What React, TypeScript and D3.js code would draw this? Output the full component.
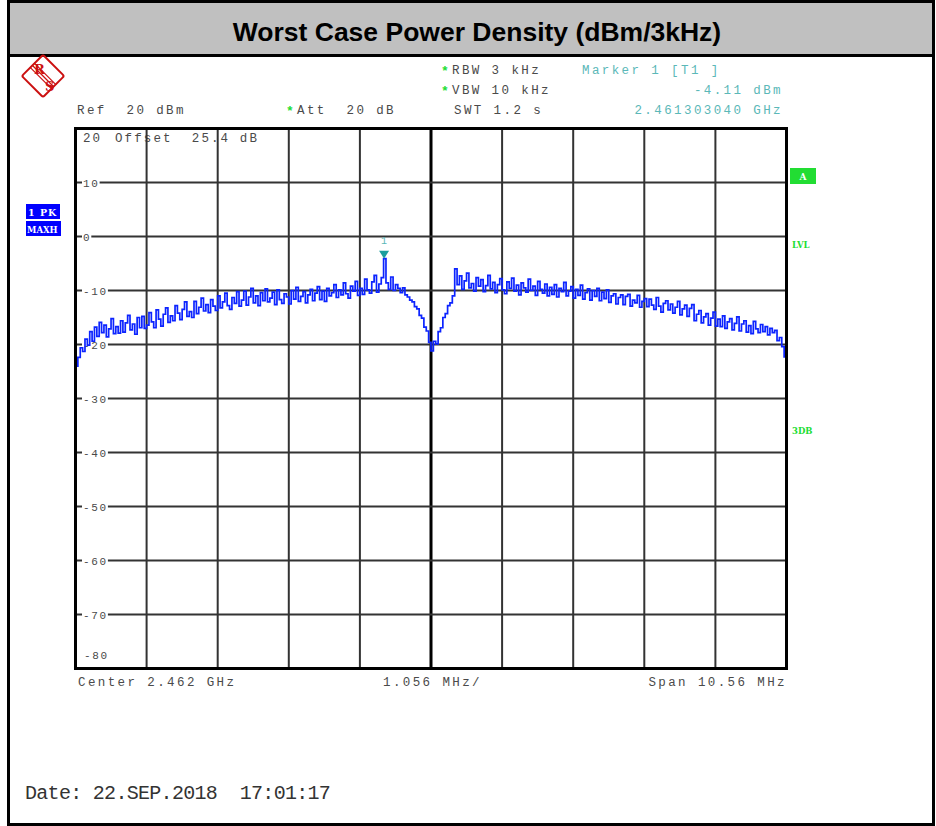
import React from "react";
import * as d3 from "d3";

// ---------------- DATA ----------------
const TITLE = "Worst Case Power Density (dBm/3kHz)";
const REF_DBM = 20;
const BOTTOM_DBM = -80;
const CENTER_GHZ = 2.462;
const SPAN_MHZ = 10.56;
const DIV_MHZ = 1.056;
const Y_GRID = [10, 0, -10, -20, -30, -40, -50, -60, -70];
const Y_LABELS = ["10", "0", "-10", "-20", "-30", "-40", "-50", "-60", "-70"];
const MARKER_GHZ = 2.46130304;
const MARKER_DBM = -4.11;

// Trace 1 (PK, MAXH) levels in dBm, 301 sweep points across the span
const TRACE_DBM = [
  -24.0, -22.4, -20.6, -21.3, -19.0, -20.1, -17.6, -19.4, -16.8, -18.5,
  -15.9, -17.8, -16.4, -18.6, -17.1, -15.2, -18.0, -16.7, -17.9, -15.6,
  -17.7, -16.0, -14.6, -17.3, -16.2, -18.1, -15.0, -16.9, -14.8, -17.0,
  -16.4, -14.1, -15.8, -16.9, -13.6, -15.3, -16.6, -14.4, -13.2, -15.9,
  -14.7, -15.6, -12.8, -14.2, -15.4, -13.5, -12.1, -14.8, -13.9, -15.0,
  -12.0, -14.3, -13.1, -11.4, -13.8, -12.6, -14.1, -11.7, -12.9, -13.7,
  -11.0, -13.2, -12.1, -10.5, -12.8, -13.5, -11.3, -12.4, -10.2, -12.9,
  -11.8, -10.1, -12.7, -11.2, -9.6, -12.3, -11.0, -12.8, -10.4, -11.9,
  -9.7, -12.1, -11.4, -10.3, -12.6, -9.9, -11.7, -12.4, -10.6, -11.2,
  -12.5, -10.0, -11.6, -9.4, -12.0, -11.1, -10.2, -12.3, -10.8, -9.8,
  -11.9, -10.5, -9.3, -11.7, -10.1, -12.0, -9.6, -11.0, -10.4, -8.9,
  -11.3, -9.9, -10.8, -8.6, -10.6, -11.4, -9.2, -10.1, -8.3, -10.9,
  -9.6, -10.7, -7.9, -9.9, -10.5, -8.4, -7.2, -10.3, -8.8, -7.6,
  -4.11,
  -8.6, -9.8, -7.5, -10.0, -8.9, -9.6, -10.4, -9.5, -10.8, -11.2,
  -11.8, -12.1, -13.0, -13.4, -14.6, -15.1, -16.8, -17.5, -19.6, -21.2,
  -19.4, -19.9, -17.6, -16.9, -15.0, -14.3, -12.8, -12.3, -11.0, -6.0,
  -8.9, -7.3, -9.8, -8.2, -6.8, -9.5, -8.7, -10.1, -7.6, -9.2,
  -8.0, -10.2, -9.1, -7.2, -9.7, -8.5, -10.4, -8.9, -7.8, -9.9,
  -10.6, -8.4, -9.6, -7.7, -10.1, -9.0, -10.8, -8.6, -9.5, -10.3,
  -7.9, -10.0, -9.2, -10.9, -8.3, -9.8, -10.5, -8.8, -11.0, -9.4,
  -10.7, -8.9, -11.2, -9.6, -10.2, -8.5, -11.0, -10.1, -9.3, -11.4,
  -9.8, -10.9, -9.0, -11.6, -10.4, -9.7, -11.8, -10.0, -11.1, -9.6,
  -11.9, -10.3, -11.5, -9.9, -12.2, -11.0, -10.6, -12.5, -11.3, -10.8,
  -12.6, -11.1, -10.7, -12.9, -11.8, -12.3, -10.9, -13.1, -12.0, -11.5,
  -13.0, -11.6, -12.7, -13.5, -11.3, -12.9, -14.0, -12.4, -11.9, -13.6,
  -12.5, -14.2, -13.1, -12.0, -14.5, -13.4, -12.7, -14.8, -13.3, -12.6,
  -15.6, -14.4, -13.7, -16.0, -14.9, -14.3, -16.4, -15.1, -14.0, -16.6,
  -15.3, -16.7, -14.7, -17.0, -15.8, -15.2, -17.3, -16.1, -14.9, -17.5,
  -16.2, -15.6, -17.7, -16.5, -18.0, -15.7, -17.1, -17.8, -16.3, -17.6,
  -16.7, -18.2, -17.0, -17.8, -17.4, -19.3, -18.7, -20.4, -22.3, -24.5,
];

// ---------------- LAYOUT ----------------
const W = 936;
const H = 826;
const PL = 75.5, PR = 786.5, PT = 128.5, PB = 668.5;

const MONO = "'Liberation Mono', 'DejaVu Sans Mono', monospace";
const SANS = "'Liberation Sans', Arial, sans-serif";
const SERIF = "'DejaVu Serif', 'Liberation Serif', serif";
const GRAY = "#4a4a4a";
const TEAL = "#5bb8b8";
const GREEN = "#22dd33";
const BLUE = "#0c24ff";
const PRE = { whiteSpace: "pre" } as any;

export default function App() {
  const x = d3.scaleLinear().domain([-SPAN_MHZ / 2, SPAN_MHZ / 2]).range([PL, PR]);
  const y = d3.scaleLinear().domain([BOTTOM_DBM, REF_DBM]).range([PB, PT]);
  const n = TRACE_DBM.length;
  const pts: [number, number][] = TRACE_DBM.map((v, i) => [
    -SPAN_MHZ / 2 + (i * SPAN_MHZ) / (n - 1),
    v,
  ]);
  const line = d3
    .line<[number, number]>()
    .x((d) => x(d[0]))
    .y((d) => y(d[1]))
    .curve(d3.curveStepAfter);

  const vLines = d3.range(1, 10).map((k) => -SPAN_MHZ / 2 + k * DIV_MHZ);

  const mx = x((MARKER_GHZ - CENTER_GHZ) * 1000);
  const my = y(MARKER_DBM);

  const hdr = { fontFamily: MONO, fontSize: 12.5, letterSpacing: 2.4, fill: GRAY, style: PRE, xmlSpace: "preserve" } as any;
  const hdrT = { ...hdr, fill: TEAL } as any;
  const yl = { fontFamily: MONO, fontSize: 11, letterSpacing: 1.6, fill: GRAY } as any;

  return (
    <svg
      width={W}
      height={H}
      style={{ position: "absolute", left: 0, top: 0, background: "#fff" }}
      xmlns="http://www.w3.org/2000/svg"
    >
      <rect x={0} y={0} width={W} height={H} fill="#fff" />
      {/* title band */}
      <rect x={9} y={2} width={923} height={53} fill="#c0c0c0" />
      <line x1={8} x2={934} y1={55.5} y2={55.5} stroke="#000" strokeWidth={3} />
      <text x={477} y={41} textAnchor="middle" fontFamily={SANS} fontWeight="bold" fontSize={26.5} fill="#000">
        {TITLE}
      </text>
      {/* outer frame */}
      <rect x={8.5} y={1.5} width={925} height={823} fill="none" stroke="#000" strokeWidth={3} />

      {/* R&S logo */}
      <g>
        <rect
          x={-15}
          y={-15}
          width={30}
          height={30}
          rx={2}
          fill="none"
          stroke="#cc1111"
          strokeWidth={2}
          transform="translate(43,76) rotate(45)"
        />
        {[-3, 0, 3].map((o) => (
          <line
            key={o}
            x1={32 + o * 0.707}
            y1={65 - o * 0.707}
            x2={54 + o * 0.707}
            y2={87 - o * 0.707}
            stroke="#cc1111"
            strokeWidth={1.2}
          />
        ))}
        <text x={34} y={74} fontFamily={SERIF} fontWeight="bold" fontSize={13} fill="#cc1111">R</text>
        <text x={45} y={91} fontFamily={SERIF} fontWeight="bold" fontSize={13} fill="#cc1111">S</text>
      </g>

      {/* header */}
      <text x={441} y={75} fontFamily={MONO} fontSize={13} fontWeight="bold" fill={GREEN}>*</text>
      <text x={452} y={74} {...hdr}>RBW 3 kHz</text>
      <text x={441} y={95} fontFamily={MONO} fontSize={13} fontWeight="bold" fill={GREEN}>*</text>
      <text x={452} y={94} {...hdr}>VBW 10 kHz</text>
      <text x={77} y={114} {...hdr}>Ref  20 dBm</text>
      <text x={286} y={115} fontFamily={MONO} fontSize={13} fontWeight="bold" fill={GREEN}>*</text>
      <text x={297} y={114} {...hdr}>Att  20 dB</text>
      <text x={454} y={114} {...hdr}>SWT 1.2 s</text>
      <text x={582} y={74} {...hdrT}>Marker 1 [T1 ]</text>
      <text x={783} y={94} textAnchor="end" {...hdrT}>{`${MARKER_DBM.toFixed(2)} dBm`}</text>
      <text x={783} y={114} textAnchor="end" {...hdrT}>{`${MARKER_GHZ.toFixed(9)} GHz`}</text>

      {/* side annotations */}
      <rect x={26} y={204} width={34} height={15} fill="#0000ff" />
      <text x={28} y={215.5} fontFamily={SERIF} fontWeight="bold" fontSize={9.5} fill="#fff" letterSpacing={1}>1 PK</text>
      <rect x={26} y={221} width={35} height={15} fill="#0000ff" />
      <text x={27} y={232.5} fontFamily={SERIF} fontWeight="bold" fontSize={8.5} fill="#fff">MAXH</text>
      <rect x={790} y={168} width={26} height={16} fill={GREEN} />
      <text x={803} y={180} textAnchor="middle" fontFamily={SERIF} fontWeight="bold" fontSize={9} fill="#fff">A</text>
      <text x={792} y={248} fontFamily={SERIF} fontWeight="bold" fontSize={8.5} fill={GREEN}>LVL</text>
      <text x={792} y={434} fontFamily={SERIF} fontWeight="bold" fontSize={8.5} fill={GREEN}>3DB</text>

      {/* top-left in-plot info (behind grid) */}
      <text x={83} y={142} {...yl} fontSize={12.5} letterSpacing={2.1}>20</text>
      <text x={115} y={142} {...hdr} letterSpacing={2.1}>Offset  25.4 dB</text>

      {/* grid */}
      {vLines.map((f, i) => (
        <line
          key={"v" + i}
          x1={x(f)}
          x2={x(f)}
          y1={PT}
          y2={PB}
          stroke={i === 4 ? "#000" : "#333"}
          strokeWidth={i === 4 ? 3 : 2}
        />
      ))}
      {Y_GRID.map((v) => (
        <line key={"h" + v} x1={PL} x2={PR} y1={y(v)} y2={y(v)} stroke="#333" strokeWidth={2} />
      ))}
      {Y_GRID.map((v, i) => {
        const w = Y_LABELS[i].length * 8.3 + 1;
        return (
          <g key={"l" + v}>
            <rect x={82} y={y(v) - 5} width={w} height={10} fill="#fff" />
            <text x={83} y={y(v) + 4} {...yl}>{Y_LABELS[i]}</text>
          </g>
        );
      })}
      <text x={84} y={659} {...yl}>-80</text>

      {/* trace */}
      <defs>
        <clipPath id="plotclip">
          <rect x={PL} y={PT} width={PR - PL} height={PB - PT} />
        </clipPath>
      </defs>
      <path d={line(pts) || ""} fill="none" stroke={BLUE} strokeWidth={1.7} clipPath="url(#plotclip)" />

      {/* marker */}
      <path d={`M${mx - 5},${my - 8} L${mx + 5},${my - 8} L${mx},${my} Z`} fill="#1a9e9e" />
      <text x={mx} y={my - 15} textAnchor="middle" fontFamily={MONO} fontSize={10} fill={TEAL}>1</text>

      {/* frame */}
      <rect x={PL} y={PT} width={PR - PL} height={PB - PT} fill="none" stroke="#000" strokeWidth={3} />

      {/* bottom labels */}
      <text x={78} y={686} {...hdr}>{`Center ${CENTER_GHZ.toFixed(3)} GHz`}</text>
      <text x={383} y={686} {...hdr}>{`${DIV_MHZ.toFixed(3)} MHz/`}</text>
      <text x={787} y={686} textAnchor="end" {...hdr}>{`Span ${SPAN_MHZ.toFixed(2)} MHz`}</text>

      {/* date */}
      <text x={25} y={799} fontFamily={MONO} fontSize={20} letterSpacing={-0.7} fill="#333" style={PRE} xmlSpace="preserve">
        {"Date: 22.SEP.2018  17:01:17"}
      </text>
    </svg>
  );
}
